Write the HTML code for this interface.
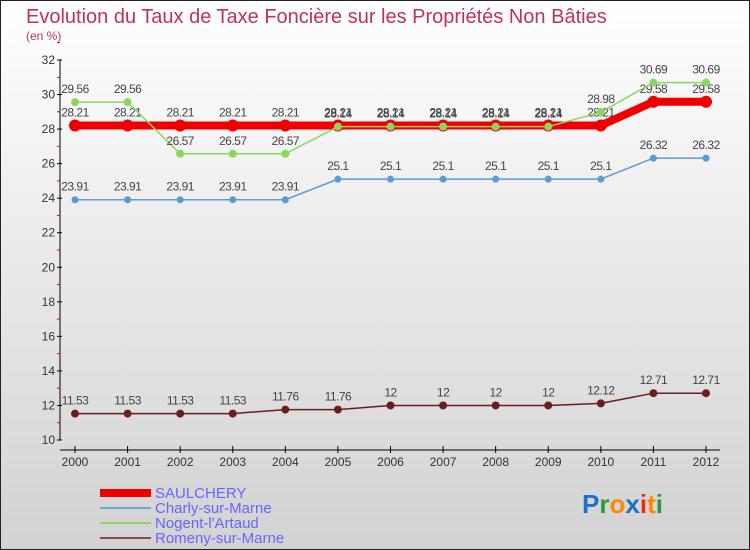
<!DOCTYPE html>
<html><head><meta charset="utf-8"><style>
html,body{margin:0;padding:0}
body{width:750px;height:550px;overflow:hidden;font-family:"Liberation Sans",sans-serif}
svg{display:block}
</style></head><body>
<svg id="chart" width="750" height="550" xmlns="http://www.w3.org/2000/svg">
<defs><linearGradient id="bg" x1="0" y1="0" x2="0" y2="1"><stop offset="0" stop-color="#ffffff"/><stop offset="1" stop-color="#d2d2d2"/></linearGradient></defs>
<rect x="0.5" y="0.5" width="749" height="549" fill="url(#bg)" stroke="#222"/>
<text x="26" y="23" font-size="20" fill="#c0325a">Evolution du Taux de Taxe Foncière sur les Propriétés Non Bâties</text>
<text x="26" y="40" font-size="12" fill="#c0325a">(en %)</text>
<g id="axes"></g><g id="series"></g>
<g>
<rect x="100" y="489" width="51" height="8" fill="#ee0000"/>
<text x="155" y="498" font-size="15" fill="#6666ff">SAULCHERY</text>
<line x1="100" y1="508" x2="151" y2="508" stroke="#6fa8d0" stroke-width="2"/>
<text x="155" y="513" font-size="15" fill="#6666ff">Charly-sur-Marne</text>
<line x1="100" y1="523" x2="151" y2="523" stroke="#88d860" stroke-width="2"/>
<text x="155" y="528" font-size="15" fill="#6666ff">Nogent-l'Artaud</text>
<line x1="100" y1="538" x2="151" y2="538" stroke="#8b4a4a" stroke-width="2"/>
<text x="155" y="543" font-size="15" fill="#6666ff">Romeny-sur-Marne</text>
</g>
<text x="582" y="513" font-size="26" font-weight="bold"><tspan fill="#1a73c9">P</tspan><tspan fill="#2a9a3a">r</tspan><tspan fill="#ff8800">o</tspan><tspan fill="#1a73c9">x</tspan><tspan fill="#ee2a10">i</tspan><tspan fill="#ff8800">t</tspan><tspan fill="#2a9a3a">i</tspan></text>
</svg>
<script>
const years=[2000,2001,2002,2003,2004,2005,2006,2007,2008,2009,2010,2011,2012];
const saulchery=[28.21,28.21,28.21,28.21,28.21,28.21,28.21,28.21,28.21,28.21,28.21,29.58,29.58];
const charly=[23.91,23.91,23.91,23.91,23.91,25.1,25.1,25.1,25.1,25.1,25.1,26.32,26.32];
const nogent=[29.56,29.56,26.57,26.57,26.57,28.14,28.14,28.14,28.14,28.14,28.98,30.69,30.69];
const romeny=[11.53,11.53,11.53,11.53,11.76,11.76,12,12,12,12,12.12,12.71,12.71];
const yTicks=[10,12,14,16,18,20,22,24,26,28,30,32];
const NS='http://www.w3.org/2000/svg';
const xs=i=>75+i*(631/(years.length-1));
const ys=v=>440-(v-10)*(380/22);
function mk(tag,attrs,parent,text){const e=document.createElementNS(NS,tag);for(const k in attrs)e.setAttribute(k,attrs[k]);if(text!==undefined)e.textContent=text;parent.appendChild(e);return e;}
const axes=document.getElementById('axes');
const ya=mk('line',{x1:60,y1:60,x2:60,y2:440,stroke:'#000'},axes);


const xa=mk('line',{x1:60,y1:450,x2:720,y2:450,stroke:'#000'},axes);


yTicks.forEach(t=>{
 mk('line',{x1:57,y1:ys(t),x2:62,y2:ys(t),stroke:'#000'},axes);
 mk('line',{x1:57,y1:ys(t+1),x2:60,y2:ys(t+1),stroke:'#e00'},axes);
 const l=mk('text',{x:55,y:ys(t)+4,'font-size':12,fill:'#333','text-anchor':'end'},axes,t);
 
 
});
years.forEach((y,i)=>{
 mk('line',{x1:xs(i),y1:446,x2:xs(i),y2:453,stroke:'#000'},axes);
 const l=mk('text',{x:xs(i),y:466,'font-size':12,fill:'#333','text-anchor':'middle'},axes,y);
 
 
});
const sg=document.getElementById('series');
function draw(vals,color,w,r,name,labelColor){
 const g=mk('g',{},sg);
 
 
 mk('polyline',{points:vals.map((v,i)=>xs(i)+','+ys(v)).join(' '),fill:'none',stroke:color,'stroke-width':w},g);
 vals.forEach((v,i)=>{
  const c=mk('circle',{cx:xs(i),cy:ys(v),r:r,fill:color},g);
  
  
  mk('text',{x:xs(i),y:ys(v)-9,'font-size':12,fill:'#444','text-anchor':'middle','letter-spacing':'-0.5'},g,v);
 });
}
draw(romeny,'#6b1e1e',1.5,4,'romeny');
draw(charly,'#5b9bd5',1.5,3.5,'charly');
draw(saulchery,'#ee0000',8,6,'saulchery');
draw(nogent,'#88d860',1.5,4,'nogent');
</script>
</body></html>
